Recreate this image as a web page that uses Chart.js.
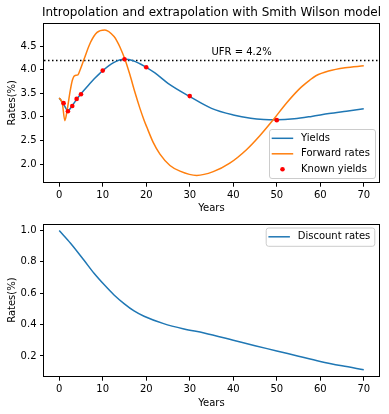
<!DOCTYPE html>
<html>
<head>
<meta charset="utf-8">
<script src="https://cdn.jsdelivr.net/npm/chart.js@4.4.0/dist/chart.umd.min.js"></script>
<style>
  body { margin: 0; background: #ffffff; }
  .app { position: relative; width: 389px; height: 414px; }
  canvas { position: absolute; left: 0; }
</style>
</head>
<body>
<div class="app">
  <canvas id="ratesChart" width="389" height="214" style="top:0"></canvas>
  <canvas id="discountChart" width="389" height="200" style="top:214px"></canvas>
</div>
<script>
// values
const knownYears = [1, 2, 3, 4, 5, 10, 15, 20, 30, 50]
const knownYields = [3.29, 3.12, 3.23, 3.38, 3.48, 3.98, 4.22, 4.05, 3.44, 2.93]

const yieldYears = [0, 1, 2, 3, 4, 5, 7, 8, 10, 12.5, 15, 17, 20, 22, 25, 30, 35, 40, 44, 47, 50, 54, 58, 62, 66, 70]
const yields = [3.40, 3.27, 3.13, 3.24, 3.37, 3.49, 3.70, 3.80, 3.98, 4.15, 4.22, 4.19, 4.05, 3.93, 3.71, 3.43, 3.18, 3.04, 2.97, 2.945, 2.94, 2.96, 3.01, 3.07, 3.12, 3.17]

const fwdYears = [0, 0.7, 1.3, 1.8, 2.5, 3, 3.5, 4.3, 4.9, 5.7, 7.2, 8.7, 10.5, 12.6, 13.3, 14, 15.1, 16.25, 17.4, 18.55, 19.5, 20.1, 21.6, 23.15, 25.45, 27.75, 31.6, 35.4, 39.2, 43.1, 46.1, 49.2, 52.3, 55.5, 57.6, 59, 61.9, 65.7, 70]
const forwards = [3.40, 3.29, 2.92, 3.13, 3.54, 3.77, 3.87, 3.89, 4.02, 4.22, 4.58, 4.79, 4.84, 4.70, 4.60, 4.47, 4.22, 3.89, 3.52, 3.18, 2.93, 2.79, 2.46, 2.21, 1.97, 1.85, 1.76, 1.84, 2.02, 2.31, 2.60, 2.94, 3.30, 3.62, 3.78, 3.87, 3.97, 4.04, 4.08]

const discYears = [0, 2.6, 5.7, 8, 10.3, 12.6, 14.9, 17.2, 19.5, 24, 28.7, 33.3, 40, 45, 50, 55, 60, 65, 70]
const discounts = [1.0, 0.919, 0.81, 0.727, 0.655, 0.589, 0.534, 0.487, 0.453, 0.406, 0.372, 0.346, 0.30, 0.265, 0.232, 0.198, 0.165, 0.137, 0.112]

const ufr = 4.2
const xTicks = [0, 10, 20, 30, 40, 50, 60, 70]
const rateTicks = [2.0, 2.5, 3.0, 3.5, 4.0, 4.5]
const discTicks = [0.2, 0.4, 0.6, 0.8, 1.0]

const blue = '#1f77b4', orange = '#ff7f0e'
const font = '"DejaVu Sans", sans-serif'
const pts = (xs, ys) => xs.map((x, i) => ({x: x, y: ys[i]}))
const margin = (lo, hi) => [lo - 0.05 * (hi - lo), hi + 0.05 * (hi - lo)]

const [xMin, xMax] = margin(0, 70)
const [rMin, rMax] = margin(Math.min(...forwards, ...yields), Math.max(...forwards, ...yields))
const [dMin, dMax] = margin(Math.min(...discounts), Math.max(...discounts))

const frame = {
  id: 'frame',
  afterDraw(chart) {
    const {ctx, chartArea: a} = chart
    ctx.save()
    ctx.strokeStyle = '#000'
    ctx.lineWidth = 1
    ctx.strokeRect(Math.round(a.left) - 0.5, Math.round(a.top) + 0.5, Math.round(a.right - a.left) + 1, Math.round(a.bottom - a.top) - 1)
    ctx.restore()
  }
}

function legendBox(ctx, x, y, w, h, items) {
  ctx.save()
  ctx.fillStyle = 'rgba(255,255,255,0.8)'
  ctx.strokeStyle = '#cccccc'
  ctx.lineWidth = 1
  ctx.beginPath()
  ctx.roundRect(x + 0.5, y + 0.5, w, h, 2.5)
  ctx.fill()
  ctx.stroke()
  ctx.font = '10px ' + font
  ctx.textBaseline = 'middle'
  items.forEach((it, i) => {
    const cy = y + 9.3 + i * 15.5
    if (it.dot) {
      ctx.fillStyle = it.color
      ctx.beginPath()
      ctx.arc(x + 13.5, cy, 2.3, 0, Math.PI * 2)
      ctx.fill()
    } else {
      ctx.strokeStyle = it.color
      ctx.lineWidth = 1.5
      ctx.beginPath()
      ctx.moveTo(x + 2.7, cy)
      ctx.lineTo(x + 24.2, cy)
      ctx.stroke()
    }
    ctx.fillStyle = '#000'
    ctx.fillText(it.label, x + 32, cy)
  })
  ctx.restore()
}

const ratesExtras = {
  id: 'ratesExtras',
  beforeDatasetsDraw(chart) {
    const {ctx, chartArea: a, scales} = chart
    const y = Math.round(scales.y.getPixelForValue(ufr)) + 0.5
    ctx.save()
    ctx.strokeStyle = '#000'
    ctx.lineWidth = 1.5
    ctx.setLineDash([1.5, 2.5])
    ctx.beginPath()
    ctx.moveTo(a.left, y)
    ctx.lineTo(a.right, y)
    ctx.stroke()
    ctx.setLineDash([])
    ctx.fillStyle = '#000'
    ctx.font = '10px ' + font
    ctx.textBaseline = 'alphabetic'
    ctx.fillText('UFR = 4.2%', scales.x.getPixelForValue(35), scales.y.getPixelForValue(4.3))
    ctx.font = '12px ' + font
    ctx.textAlign = 'center'
    ctx.textBaseline = 'middle'
    ctx.fillText('Intropolation and extrapolation with Smith Wilson model', (a.left + a.right) / 2, 13)
    ctx.restore()
  },
  afterDraw(chart) {
    const a = chart.chartArea
    legendBox(chart.ctx, a.right - 110, a.bottom - 53.7, 106, 49, [
      {label: 'Yields', color: blue},
      {label: 'Forward rates', color: orange},
      {label: 'Known yields', color: '#ff0000', dot: true}
    ])
  }
}

const discountLegend = {
  id: 'discountLegend',
  afterDraw(chart) {
    const a = chart.chartArea
    legendBox(chart.ctx, a.right - 113.3, a.top + 4, 108.6, 18.3, [
      {label: 'Discount rates', color: blue}
    ])
  }
}

function xScale(height, titlePad) {
  return {
    type: 'linear',
    min: xMin,
    max: xMax,
    afterBuildTicks: s => { s.ticks = xTicks.map(v => ({value: v})) },
    afterFit: s => { s.height = height },
    ticks: {color: '#000', font: {family: font, size: 10}, padding: 3, maxRotation: 0, callback: v => v},
    grid: {drawOnChartArea: false, drawTicks: true, tickLength: 4, color: '#000'},
    border: {display: false},
    title: {display: true, text: 'Years', color: '#000', font: {family: font, size: 10}, padding: {top: 0, bottom: titlePad}}
  }
}

function yScale(lo, hi, tickList) {
  return {
    type: 'linear',
    min: lo,
    max: hi,
    afterBuildTicks: s => { s.ticks = tickList.map(v => ({value: v})) },
    afterFit: s => { s.width = 44 },
    ticks: {color: '#000', font: {family: font, size: 10}, padding: 3.5, callback: v => v.toFixed(1)},
    grid: {drawOnChartArea: false, drawTicks: true, tickLength: 4, color: '#000'},
    border: {display: false},
    title: {display: true, text: 'Rates(%)', color: '#000', font: {family: font, size: 10}, padding: {top: 6.5, bottom: 0}}
  }
}

const lineStyle = {borderWidth: 1.5, pointRadius: 0, fill: false, cubicInterpolationMode: 'monotone'}

new Chart(document.getElementById('ratesChart').getContext('2d'), {
  type: 'line',
  data: {
    datasets: [{
      label: 'Known yields',
      data: pts(knownYears, knownYields),
      showLine: false,
      pointRadius: 2.3,
      pointBorderWidth: 0,
      pointBackgroundColor: '#ff0000',
      order: 0
    }, {
      label: 'Forward rates',
      data: pts(fwdYears, forwards),
      borderColor: orange,
      ...lineStyle,
      order: 1
    }, {
      label: 'Yields',
      data: pts(yieldYears, yields),
      borderColor: blue,
      ...lineStyle,
      order: 2
    }]
  },
  options: {
    responsive: false,
    animation: false,
    devicePixelRatio: 1,
    layout: {padding: {left: 0, right: 10, top: 22.7, bottom: 0}},
    plugins: {legend: {display: false}, tooltip: {enabled: false}},
    scales: {x: xScale(31.3, 0), y: yScale(rMin, rMax, rateTicks)}
  },
  plugins: [ratesExtras, frame]
})

new Chart(document.getElementById('discountChart').getContext('2d'), {
  type: 'line',
  data: {
    datasets: [{
      label: 'Discount rates',
      data: pts(discYears, discounts),
      borderColor: blue,
      ...lineStyle
    }]
  },
  options: {
    responsive: false,
    animation: false,
    devicePixelRatio: 1,
    layout: {padding: {left: 0, right: 10, top: 2, bottom: 0}},
    plugins: {legend: {display: false}, tooltip: {enabled: false}},
    scales: {x: xScale(37.3, 5), y: yScale(dMin, dMax, discTicks)}
  },
  plugins: [discountLegend, frame]
})
</script>
</body>
</html>
